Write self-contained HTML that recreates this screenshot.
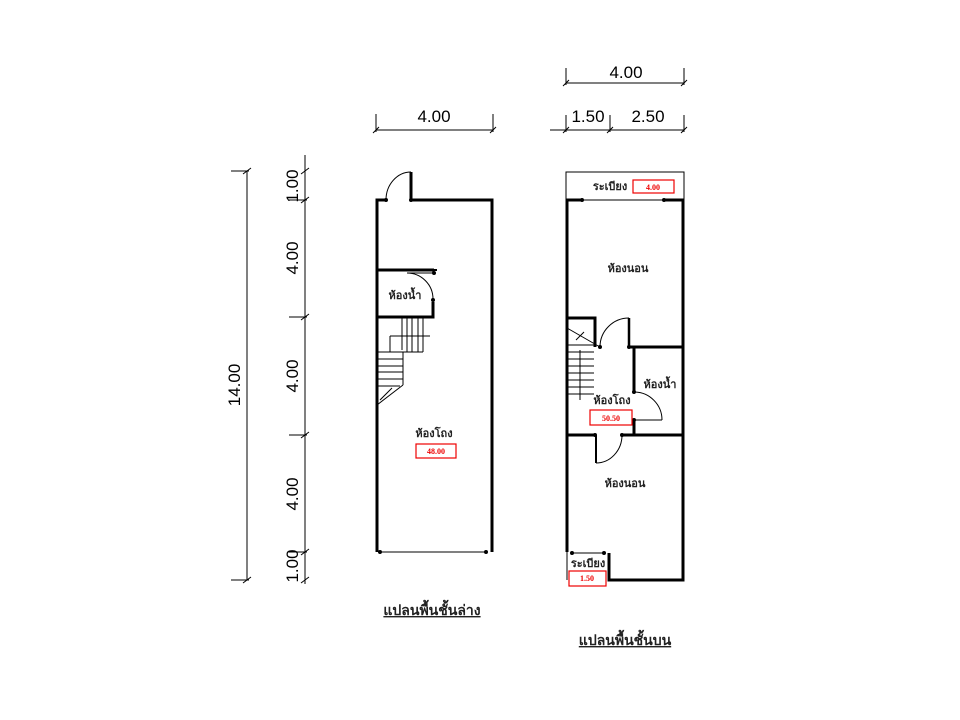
<!DOCTYPE html>
<html><head><meta charset="utf-8"><style>
html,body{margin:0;padding:0;background:#fff;}
svg{display:block}
.d{font-family:"Liberation Sans",sans-serif;font-size:17px;fill:#000}
.t{font-family:"Liberation Serif","Noto Serif CJK SC",serif;font-weight:bold;font-size:11px;fill:#222}
.r{font-family:"Liberation Serif",serif;font-weight:bold;font-size:8px;fill:#e00}
.h{font-family:"Liberation Serif","Noto Serif CJK SC",serif;font-weight:bold;font-size:14px;fill:#222;text-decoration:underline}
</style></head><body>
<svg width="960" height="720" viewBox="0 0 960 720" xmlns="http://www.w3.org/2000/svg">
<g stroke="#000" fill="none" stroke-width="1">
<!-- left vertical dims -->
<line x1="247" y1="171" x2="247" y2="580"/>
<line x1="231" y1="171" x2="249" y2="171"/><line x1="231" y1="580" x2="249" y2="580"/>
<line x1="305" y1="155" x2="305" y2="584"/>
<line x1="289" y1="200" x2="307" y2="200"/><line x1="289" y1="317" x2="307" y2="317"/>
<line x1="289" y1="435" x2="307" y2="435"/><line x1="289" y1="552" x2="307" y2="552"/>
<line x1="301" y1="174" x2="309" y2="168"/><line x1="301" y1="203" x2="309" y2="197"/>
<line x1="301" y1="320" x2="309" y2="314"/><line x1="301" y1="438" x2="309" y2="432"/>
<line x1="301" y1="555" x2="309" y2="549"/><line x1="301" y1="583" x2="309" y2="577"/>
<line x1="243" y1="174" x2="251" y2="168"/><line x1="243" y1="583" x2="251" y2="577"/>
<!-- left top dim -->
<line x1="376" y1="130" x2="493" y2="130"/>
<line x1="376" y1="114" x2="376" y2="132"/><line x1="493" y1="114" x2="493" y2="132"/>
<line x1="373" y1="133" x2="379" y2="127"/><line x1="490" y1="133" x2="496" y2="127"/>
<!-- right top dims -->
<line x1="566" y1="83" x2="684" y2="83"/>
<line x1="566" y1="68" x2="566" y2="85"/><line x1="684" y1="68" x2="684" y2="85"/>
<line x1="563" y1="86" x2="569" y2="80"/><line x1="681" y1="86" x2="687" y2="80"/>
<line x1="550" y1="130" x2="684" y2="130"/>
<line x1="566" y1="115" x2="566" y2="132"/><line x1="610" y1="115" x2="610" y2="132"/><line x1="684" y1="115" x2="684" y2="132"/>
<line x1="563" y1="133" x2="569" y2="127"/><line x1="607" y1="133" x2="613" y2="127"/><line x1="681" y1="133" x2="687" y2="127"/>
</g>
<text class="d" transform="translate(240,385) rotate(-90)" text-anchor="middle">14.00</text>
<text class="d" transform="translate(298,186) rotate(-90)" text-anchor="middle">1.00</text>
<text class="d" transform="translate(298,258) rotate(-90)" text-anchor="middle">4.00</text>
<text class="d" transform="translate(298,376) rotate(-90)" text-anchor="middle">4.00</text>
<text class="d" transform="translate(298,494) rotate(-90)" text-anchor="middle">4.00</text>
<text class="d" transform="translate(298,566) rotate(-90)" text-anchor="middle">1.00</text>
<text class="d" x="434" y="122" text-anchor="middle">4.00</text>
<text class="d" x="626" y="78" text-anchor="middle">4.00</text>
<text class="d" x="588" y="122" text-anchor="middle">1.50</text>
<text class="d" x="648" y="122" text-anchor="middle">2.50</text>

<!-- LEFT PLAN -->
<g stroke="#000" fill="none">
<path d="M386 200 H377 V552" stroke-width="3"/>
<path d="M412 200 H492 V552" stroke-width="3"/>
<line x1="411" y1="172" x2="411" y2="200" stroke-width="3"/>
<path d="M386 200 A25 28 0 0 1 411 172" stroke-width="1"/>
<line x1="380" y1="552" x2="486" y2="552" stroke-width="1"/>
<path d="M377 270 H434" stroke-width="3"/>
<path d="M377 317 H433 V302" stroke-width="3"/>
<path d="M433 270 H437" stroke-width="2"/>
<path d="M407 273 A26 26 0 0 1 433 299" stroke-width="1"/>
<line x1="407" y1="273" x2="433" y2="273" stroke-width="1"/>
<g stroke-width="1">
<line x1="402" y1="318" x2="402" y2="350"/><line x1="407" y1="318" x2="407" y2="352"/>
<line x1="412" y1="318" x2="412" y2="352"/><line x1="418" y1="318" x2="418" y2="352"/>
<line x1="423" y1="318" x2="423" y2="352"/>
<line x1="390" y1="336" x2="430" y2="336"/><line x1="390" y1="336" x2="390" y2="352"/>
<line x1="402" y1="352" x2="423" y2="352"/>
<line x1="403" y1="352" x2="403" y2="385"/>
<line x1="377" y1="352" x2="403" y2="352"/><line x1="377" y1="359" x2="403" y2="359"/>
<line x1="377" y1="366" x2="403" y2="366"/><line x1="377" y1="372" x2="403" y2="372"/>
<line x1="377" y1="379" x2="403" y2="379"/><line x1="377" y1="386" x2="400" y2="386"/>
<line x1="403" y1="385" x2="377" y2="405"/>
<line x1="380" y1="400" x2="392" y2="388"/>
</g>
</g>
<g fill="#000"><circle cx="386" cy="200" r="2"/><circle cx="411" cy="200" r="2"/><circle cx="380" cy="552" r="2"/><circle cx="486" cy="552" r="2"/><circle cx="434" cy="273" r="2"/><circle cx="433" cy="300" r="2"/></g>
<text class="t" x="405" y="299" text-anchor="middle">ห้องน้ำ</text>
<text class="t" x="434" y="437" text-anchor="middle">ห้องโถง</text>
<rect x="416" y="444" width="40" height="14" fill="none" stroke="#e00" stroke-width="1.2"/>
<text class="r" x="436" y="454" text-anchor="middle">48.00</text>
<text class="h" x="432" y="615" text-anchor="middle">แปลนพื้นชั้นล่าง</text>

<!-- RIGHT PLAN -->
<g stroke="#000" fill="none">
<rect x="566" y="172" width="118" height="28" stroke-width="1"/>
<path d="M582 200 H567 V552" stroke-width="3"/>
<path d="M664 200 H683 V580 H609 V553" stroke-width="3"/>
<line x1="567" y1="552" x2="567" y2="580" stroke-width="1"/>
<line x1="572" y1="553" x2="604" y2="553" stroke-width="1"/>
<line x1="582" y1="200" x2="664" y2="200" stroke-width="1"/>
<path d="M567 318 H595 V347" stroke-width="3"/>
<line x1="629" y1="318" x2="629" y2="347" stroke-width="2.5"/>
<path d="M600 347 A29 29 0 0 1 629 318" stroke-width="1"/>
<path d="M629 347 H683" stroke-width="3"/>
<path d="M634 347 V392 M634 420 V435" stroke-width="3"/>
<line x1="634" y1="420" x2="662" y2="420" stroke-width="1"/>
<path d="M634 392 A28 28 0 0 1 662 420" stroke-width="1"/>
<path d="M567 435 H595 M622 435 H683" stroke-width="3"/>
<line x1="596" y1="435" x2="596" y2="463" stroke-width="2"/>
<path d="M596 463 A26 28 0 0 0 622 435" stroke-width="1"/>
<g stroke-width="1">
<line x1="567" y1="345" x2="594" y2="345"/><line x1="567" y1="352" x2="594" y2="352"/>
<line x1="567" y1="359" x2="594" y2="359"/><line x1="567" y1="366" x2="594" y2="366"/>
<line x1="567" y1="373" x2="594" y2="373"/><line x1="567" y1="380" x2="594" y2="380"/>
<line x1="567" y1="387" x2="594" y2="387"/><line x1="567" y1="394" x2="594" y2="394"/>
<line x1="580" y1="350" x2="580" y2="400"/>
<line x1="567" y1="328" x2="600" y2="347"/>
<line x1="576" y1="340" x2="584" y2="332"/>
</g>
</g>
<g fill="#000"><circle cx="582" cy="200" r="2"/><circle cx="664" cy="200" r="2"/><circle cx="600" cy="347" r="2"/><circle cx="629" cy="347" r="2"/><circle cx="634" cy="392" r="2"/><circle cx="634" cy="420" r="2"/><circle cx="595" cy="435" r="2"/><circle cx="622" cy="435" r="2"/><circle cx="572" cy="553" r="2"/><circle cx="604" cy="553" r="2"/></g>
<text class="t" x="610" y="190" text-anchor="middle">ระเบียง</text>
<rect x="633" y="180" width="41" height="13" fill="#fff" stroke="#e00" stroke-width="1.2"/>
<text class="r" x="653" y="190" text-anchor="middle">4.00</text>
<text class="t" x="628" y="272" text-anchor="middle">ห้องนอน</text>
<text class="t" x="660" y="388" text-anchor="middle">ห้องน้ำ</text>
<text class="t" x="612" y="404" text-anchor="middle">ห้องโถง</text>
<rect x="590" y="410" width="42" height="15" fill="#fff" stroke="#e00" stroke-width="1.2"/>
<text class="r" x="611" y="421" text-anchor="middle">50.50</text>
<text class="t" x="625" y="487" text-anchor="middle">ห้องนอน</text>
<text class="t" x="588" y="567" text-anchor="middle">ระเบียง</text>
<rect x="569" y="571" width="37" height="15" fill="#fff" stroke="#e00" stroke-width="1.2"/>
<text class="r" x="587" y="581" text-anchor="middle">1.50</text>
<text class="h" x="625" y="645" text-anchor="middle">แปลนพื้นชั้นบน</text>
</svg>
</body></html>
